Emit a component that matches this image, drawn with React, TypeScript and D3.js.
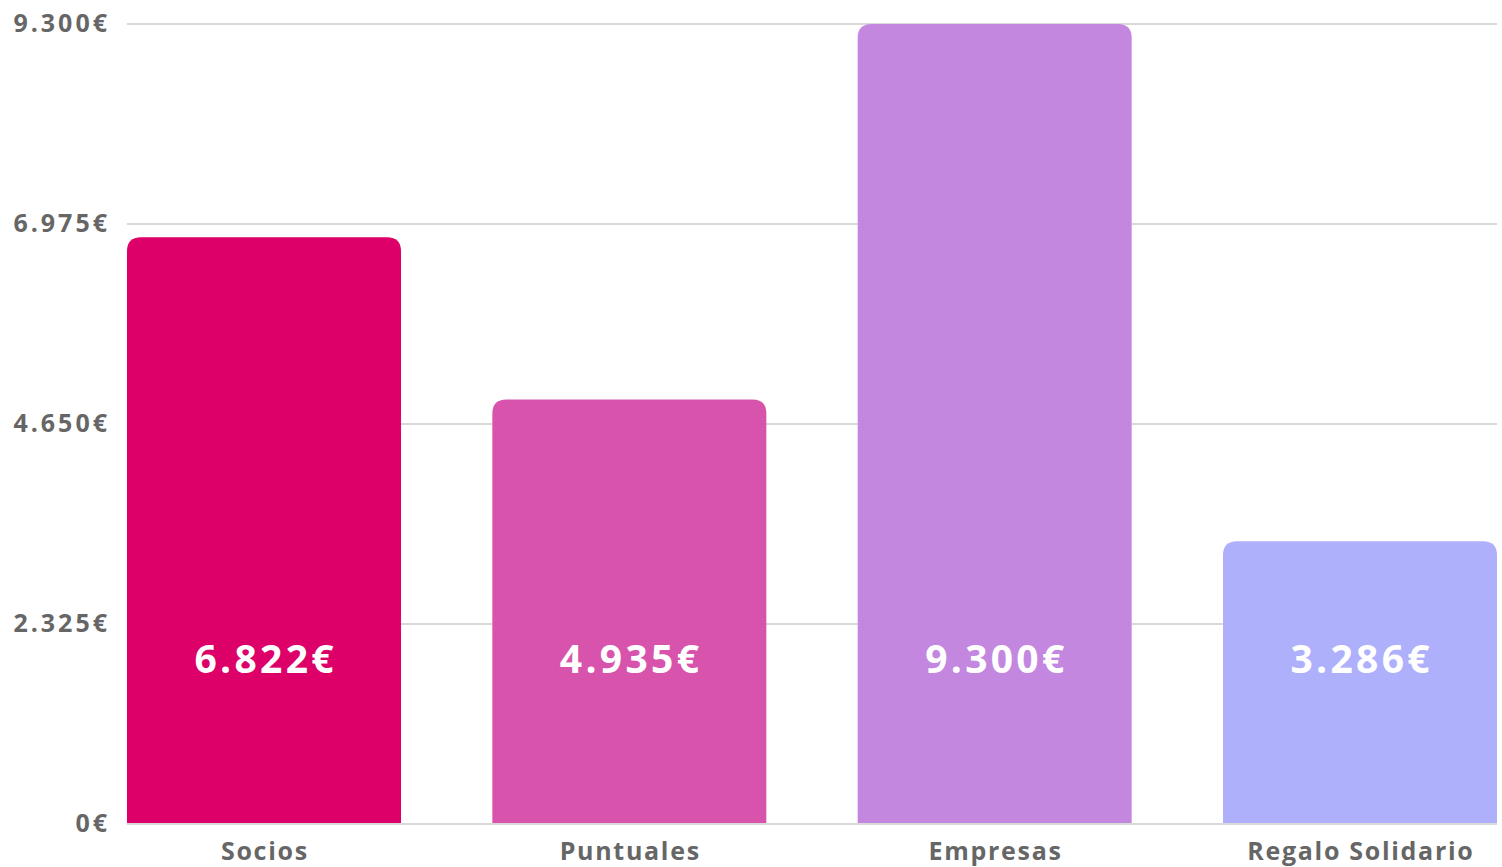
import * as d3 from 'd3';

const categories = ['Socios', 'Puntuales', 'Empresas', 'Regalo Solidario'];
const amounts = [6822, 4935, 9300, 3286];
const barColors = ['#dc0068', '#d854ac', '#c387e0', '#aeb0fc'];
const yTicks = [0, 2325, 4650, 6975, 9300];

const W = 1502;
const H = 867;
const margin = { top: 24, right: 5, bottom: 43, left: 127 };
const FONT = '"Open Sans", sans-serif';

const euro = (v: number) => d3.format(',')(v).replace(/,/g, '.') + '€';

// rounded top corners only
function topRoundedBar(x: number, y: number, w: number, h: number, r: number) {
  const rr = Math.min(r, h, w / 2);
  return `M${x},${y + h}V${y + rr}Q${x},${y} ${x + rr},${y}H${x + w - rr}Q${x + w},${y} ${x + w},${y + rr}V${y + h}Z`;
}

export default function App() {
  const x = d3
    .scaleBand()
    .domain(categories)
    .range([margin.left, W - margin.right])
    .paddingInner(0.25)
    .paddingOuter(0);
  const y = d3.scaleLinear().domain([0, 9300]).range([H - margin.bottom, margin.top]);

  return (
    <svg width={W} height={H} style={{ position: 'absolute', left: 0, top: 0 }}>
      {yTicks.map((t) => (
        <g key={t}>
          <line x1={margin.left} x2={W - margin.right} y1={y(t)} y2={y(t)} stroke="#d9d9d9" strokeWidth={2} />
          <text
            x={110}
            y={y(t) + 8}
            textAnchor="end"
            fontFamily={FONT}
            fontWeight={700}
            fontSize={25}
            letterSpacing={3}
            fill="#666666"
          >
            {euro(t)}
          </text>
        </g>
      ))}
      {categories.map((c, i) => {
        const bx = x(c)!;
        const bw = x.bandwidth();
        const top = y(amounts[i]);
        return (
          <g key={c}>
            <path d={topRoundedBar(bx, top, bw, y(0) - top - 1, 14)} fill={barColors[i]} />
            <text
              x={bx + bw / 2 + 1.7}
              y={673}
              textAnchor="middle"
              fontFamily={FONT}
              fontWeight={700}
              fontSize={39}
              letterSpacing={3.3}
              fill="#ffffff"
            >
              {euro(amounts[i])}
            </text>
            <text
              x={bx + bw / 2 + 0.9}
              y={860}
              textAnchor="middle"
              fontFamily={FONT}
              fontWeight={700}
              fontSize={25}
              letterSpacing={1.7}
              fill="#666666"
            >
              {c}
            </text>
          </g>
        );
      })}
    </svg>
  );
}
